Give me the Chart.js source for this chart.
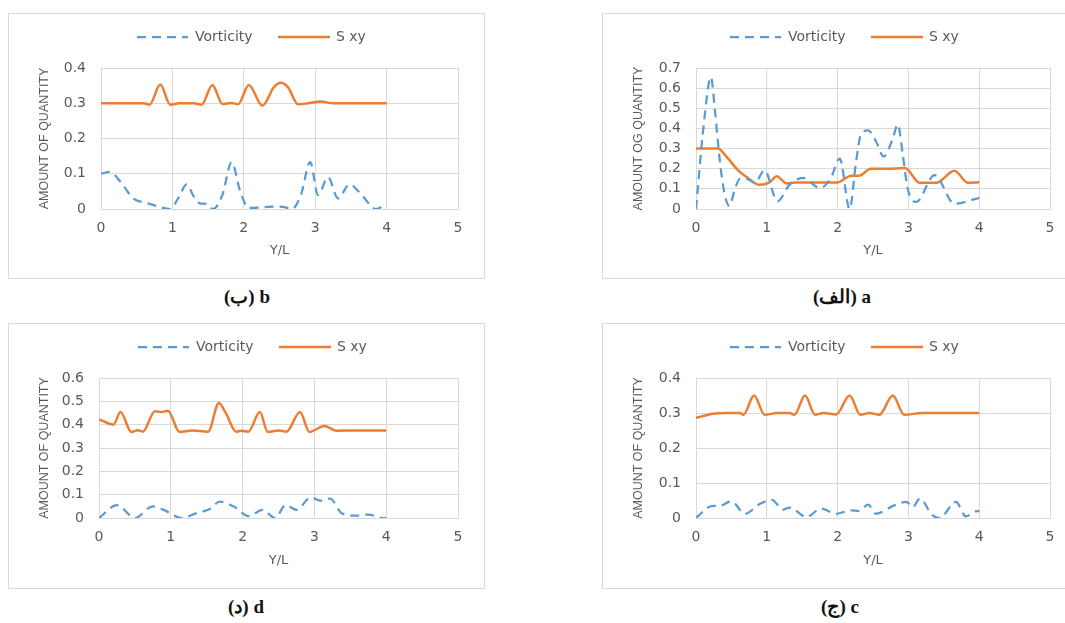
<!DOCTYPE html>
<html><head><meta charset="utf-8">
<script src="https://cdn.jsdelivr.net/npm/chart.js@4/dist/chart.umd.min.js"></script>
<style>
html,body{margin:0;padding:0;background:#fff;}
body{width:1065px;height:623px;position:relative;overflow:hidden;}
.box{position:absolute;border:1px solid #d9d9d9;box-sizing:border-box;}
canvas{position:absolute;}
.cap{position:absolute;width:200px;height:24px;line-height:24px;text-align:center;font-family:"Liberation Serif","DejaVu Serif",serif;font-weight:bold;font-size:19px;color:#111;}
</style></head><body>
<div class="box" style="left:8px;top:13px;width:477px;height:266px"></div>
<div class="box" style="left:602px;top:13px;width:477px;height:266px"></div>
<div class="box" style="left:8px;top:323px;width:477px;height:266px"></div>
<div class="box" style="left:602px;top:323px;width:477px;height:266px"></div>
<canvas id="cb" width="476" height="265" style="left:8px;top:13px"></canvas>
<canvas id="ca" width="463" height="265" style="left:602px;top:13px"></canvas>
<canvas id="cd" width="476" height="265" style="left:8px;top:323px"></canvas>
<canvas id="cc" width="463" height="265" style="left:602px;top:323px"></canvas>
<div class="cap" dir="ltr" style="left:147px;top:285px">(ب) b</div>
<div class="cap" dir="ltr" style="left:742px;top:285px">(الف) a</div>
<div class="cap" dir="ltr" style="left:146px;top:595px">(د) d</div>
<div class="cap" dir="ltr" style="left:740px;top:595px">(ج) c</div>
<script>
// ---- Panel b ----
const bVortX = [0, 0.12, 0.3, 0.45, 0.65, 0.85, 0.97, 1.08, 1.2, 1.3, 1.4, 1.48, 1.57, 1.7, 1.83, 1.95, 2.07, 2.2, 2.4, 2.55, 2.67, 2.8, 2.93, 3.04, 3.18, 3.32, 3.48, 3.65, 3.85, 4];
const bVort  = [0.1, 0.105, 0.07, 0.03, 0.017, 0.004, 0, 0.03, 0.07, 0.035, 0.015, 0.015, 0, 0.04, 0.133, 0.05, 0.003, 0.004, 0.007, 0.006, 0, 0.04, 0.133, 0.04, 0.09, 0.03, 0.07, 0.04, 0, 0.015];
const bSxyX  = [0, 0.3, 0.6, 0.68, 0.83, 0.97, 1.1, 1.3, 1.41, 1.56, 1.7, 1.83, 1.92, 2.07, 2.26, 2.42, 2.52, 2.62, 2.76, 2.9, 3.08, 3.25, 3.5, 4];
const bSxy   = [0.3, 0.3, 0.3, 0.296, 0.353, 0.296, 0.3, 0.3, 0.296, 0.352, 0.298, 0.301, 0.297, 0.352, 0.293, 0.345, 0.358, 0.345, 0.297, 0.3, 0.305, 0.3, 0.3, 0.3];
// ---- Panel a ----
const aVortX = [0, 0.11, 0.21, 0.27, 0.33, 0.39, 0.47, 0.55, 0.62, 0.72, 0.83, 0.97, 1.15, 1.32, 1.51, 1.75, 1.9, 2.03, 2.17, 2.26, 2.33, 2.43, 2.55, 2.65, 2.78, 2.85, 2.92, 2.99, 3.11, 3.37, 3.65, 3.95, 4];
const aVort  = [0, 0.42, 0.655, 0.48, 0.26, 0.1, 0.015, 0.1, 0.15, 0.15, 0.13, 0.192, 0.038, 0.12, 0.155, 0.104, 0.15, 0.25, 0, 0.233, 0.37, 0.39, 0.33, 0.26, 0.35, 0.42, 0.27, 0.1, 0.035, 0.168, 0.026, 0.05, 0.055];
const aSxyX  = [0, 0.2, 0.31, 0.43, 0.6, 0.71, 0.9, 1.04, 1.14, 1.28, 1.4, 1.7, 2.0, 2.19, 2.3, 2.47, 2.7, 2.95, 3.16, 3.39, 3.65, 3.84, 4];
const aSxy   = [0.3, 0.3, 0.3, 0.26, 0.19, 0.16, 0.12, 0.132, 0.162, 0.127, 0.132, 0.132, 0.132, 0.165, 0.165, 0.2, 0.2, 0.203, 0.13, 0.13, 0.19, 0.13, 0.133];
// ---- Panel d ----
const dVortX = [0, 0.25, 0.5, 0.75, 0.9, 1.15, 1.35, 1.55, 1.68, 1.9, 2.08, 2.28, 2.45, 2.6, 2.75, 2.95, 3.08, 3.22, 3.38, 3.58, 3.75, 3.95, 4];
const dVort  = [0, 0.055, 0, 0.05, 0.035, 0, 0.02, 0.04, 0.07, 0.045, 0.008, 0.035, 0, 0.055, 0.035, 0.088, 0.075, 0.083, 0.02, 0.01, 0.015, 0, 0];
const dSxyX  = [0, 0.2, 0.3, 0.45, 0.54, 0.61, 0.78, 0.87, 0.96, 1.12, 1.3, 1.52, 1.67, 1.77, 1.91, 1.98, 2.08, 2.24, 2.35, 2.5, 2.61, 2.8, 2.93, 3.14, 3.31, 3.6, 4];
const dSxy   = [0.423, 0.4, 0.454, 0.369, 0.376, 0.37, 0.458, 0.454, 0.46, 0.369, 0.375, 0.37, 0.493, 0.447, 0.37, 0.374, 0.37, 0.454, 0.369, 0.375, 0.37, 0.454, 0.369, 0.394, 0.374, 0.375, 0.375];
// ---- Panel c ----
const cVortX = [0, 0.22, 0.34, 0.5, 0.69, 0.9, 1.07, 1.23, 1.32, 1.56, 1.77, 1.98, 2.19, 2.3, 2.43, 2.54, 2.8, 2.97, 3.06, 3.16, 3.34, 3.44, 3.67, 3.81, 3.95, 4];
const cVort  = [0, 0.034, 0.035, 0.048, 0.012, 0.04, 0.052, 0.024, 0.03, 0.003, 0.027, 0.012, 0.022, 0.02, 0.038, 0.012, 0.036, 0.046, 0.031, 0.055, 0.008, 0, 0.046, 0.005, 0.019, 0.02];
const cSxyX  = [0, 0.24, 0.45, 0.62, 0.67, 0.82, 0.97, 1.15, 1.32, 1.39, 1.54, 1.68, 1.8, 1.98, 2.17, 2.32, 2.45, 2.59, 2.78, 2.94, 3.2, 3.6, 4];
const cSxy   = [0.286, 0.298, 0.3, 0.3, 0.295, 0.35, 0.295, 0.3, 0.3, 0.295, 0.35, 0.295, 0.3, 0.296, 0.35, 0.295, 0.3, 0.295, 0.35, 0.295, 0.3, 0.3, 0.3];

const seriesNames = ['Vorticity', 'S xy'];
const xTicksMax = 5;
const yTitleStd = 'AMOUNT OF QUANTITY';
const yTitleA = 'AMOUNT OG QUANTITY';

const BLUE = '#5b9bd5', ORANGE = '#ed7d31', GRID = '#d9d9d9', TXT = '#595959';

function pts(xs, ys){ return xs.map((x,i)=>({x:x, y:ys[i]})); }

const legendPlugin = {
  id:'customLegend',
  afterDraw(chart, args, opts){
    const ctx = chart.ctx;
    ctx.save();
    chart.data.datasets.forEach((ds,i)=>{
      const it = opts.items[i];
      ctx.beginPath();
      ctx.setLineDash(ds.borderDash || []);
      ctx.lineWidth = ds.borderWidth;
      ctx.strokeStyle = ds.borderColor;
      ctx.moveTo(it.x0, opts.y); ctx.lineTo(it.x1, opts.y); ctx.stroke();
      ctx.setLineDash([]);
      ctx.fillStyle = TXT;
      ctx.font = '14px "DejaVu Sans"';
      ctx.textBaseline = 'middle'; ctx.textAlign = 'left';
      ctx.fillText(ds.label, it.tx, opts.y);
    });
    ctx.restore();
  }
};

function makeChart(id, vx, vy, sx, sy, ymax, ytitle, plot){
  const fontTick = {family:'DejaVu Sans', size:14};
  return new Chart(document.getElementById(id), {
    type:'line',
    data:{datasets:[
      {label:seriesNames[0], data:pts(vx,vy), borderColor:BLUE, borderWidth:2.25, borderDash:[9,6], pointRadius:0, cubicInterpolationMode:'monotone', fill:false},
      {label:seriesNames[1], data:pts(sx,sy), borderColor:ORANGE, borderWidth:2.5, pointRadius:0, cubicInterpolationMode:'monotone', fill:false}
    ]},
    options:{
      responsive:false, animation:false, devicePixelRatio:1,
      layout:{padding:{left:0, top:plot.top, right:plot.right, bottom:0}},
      plugins:{
        legend:{display:false}, tooltip:{enabled:false},
        customLegend:{y:24, items:[{x0:plot.lx, x1:plot.lx+51, tx:plot.lx+58},{x0:plot.lx+141, x1:plot.lx+193, tx:plot.lx+199}]}
      },
      scales:{
        x:{type:'linear', min:0, max:xTicksMax,
           ticks:{stepSize:1, padding:10.5, color:TXT, font:fontTick},
           grid:{color:GRID, drawTicks:false},
           border:{display:true, color:GRID},
           title:{display:true, text:'Y/L', color:TXT, font:{family:'DejaVu Sans', size:13}, padding:{top:0, bottom:20}},
           afterFit(s){ s.height = plot.xh; }},
        y:{type:'linear', min:0, max:ymax,
           ticks:{stepSize:0.1, padding:15, color:TXT, font:fontTick, callback:(v)=>Number(v.toFixed(1)).toString()},
           grid:{color:GRID, drawTicks:false},
           border:{display:true, color:GRID},
           title:{display:true, text:ytitle, color:TXT, font:{family:'Liberation Sans', size:12.5}, padding:{top:29.5, bottom:0}},
           afterFit(s){ s.width = plot.left; }}
      }
    },
    plugins:[legendPlugin]
  });
}

makeChart('cb', bVortX, bVort, bSxyX, bSxy, 0.4, yTitleStd, {left:93, top:55, right:26, xh:69, lx:129});
makeChart('ca', aVortX, aVort, aSxyX, aSxy, 0.7, yTitleA, {left:94, top:55, right:14, xh:69, lx:128});
makeChart('cd', dVortX, dVort, dSxyX, dSxy, 0.6, yTitleStd, {left:91, top:55, right:26, xh:70, lx:130});
makeChart('cc', cVortX, cVort, cSxyX, cSxy, 0.4, yTitleStd, {left:94, top:55, right:14, xh:70, lx:128});
</script>
</body></html>
